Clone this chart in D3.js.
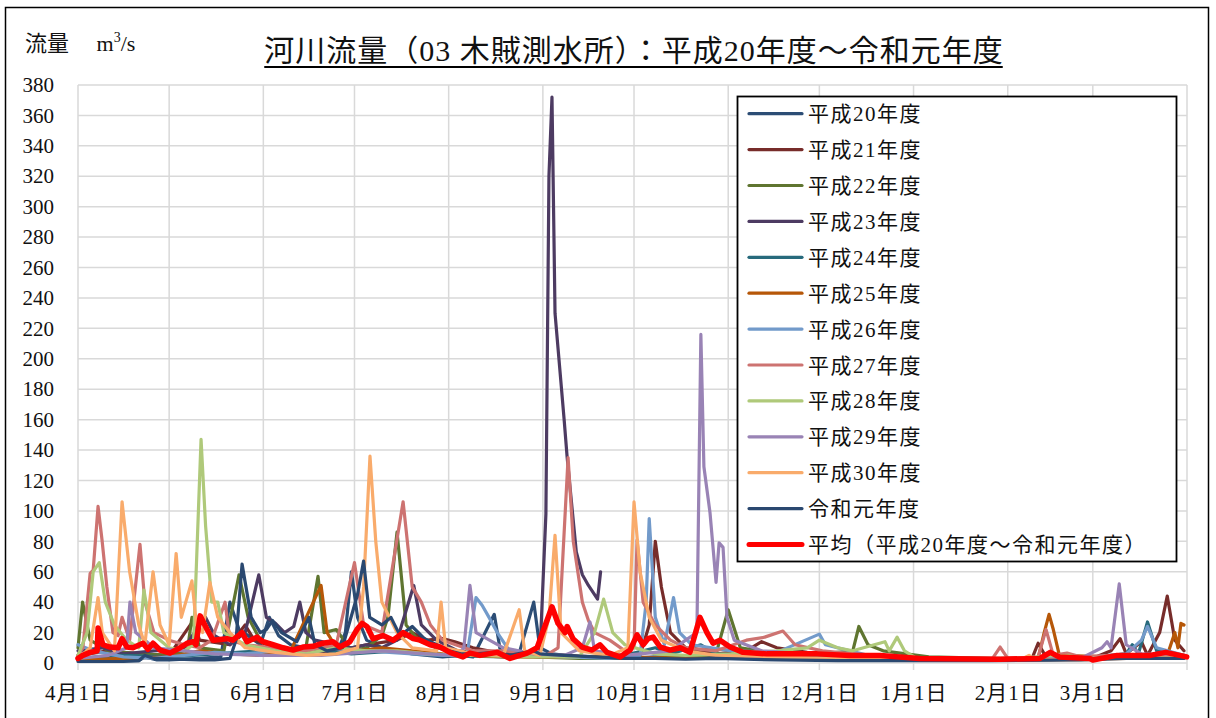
<!DOCTYPE html>
<html>
<head>
<meta charset="utf-8">
<script src="https://cdn.jsdelivr.net/npm/d3@7"></script>
<style>
  body { margin: 0; background: #fff; }
  svg text { font-family: 'Liberation Serif', 'DejaVu Serif', 'Noto Sans CJK JP', serif; fill: #111; }
</style>
</head>
<body>
<svg id="chart" width="1216" height="718"></svg>
<script>
// day index from 4月1日 (0) ... 3月31日 (364), value in m3/s
const monthDays = [0, 30, 61, 91, 122, 153, 183, 214, 244, 275, 306, 334];
const monthLabels = ["4月1日","5月1日","6月1日","7月1日","8月1日","9月1日","10月1日","11月1日","12月1日","1月1日","2月1日","3月1日"];
const yTicks = d3.range(0, 381, 20);

const seriesNames = ["平成20年度","平成21年度","平成22年度","平成23年度","平成24年度","平成25年度",
  "平成26年度","平成27年度","平成28年度","平成29年度","平成30年度","令和元年度"];
const seriesColors = ["#2C4D75","#772C2A","#5F7530","#4D3B62","#276A7C","#B65708",
  "#729ACA","#CD7371","#AFC97A","#9983B5","#F9AB6B","#2A4870"];

const h20 = [[0,2],[10,1.5],[20,1.5],[22,4],[26,2],[30,2],[40,3],[47,4],[50,40],[53,22],[56,18],[60,12],[63,30],[66,18],[70,12],[75,10],[80,8],[85,6],[88,20],[90,60],[92,30],[95,15],[100,10],[105,8],[110,6],[115,5],[120,4],[126,5],[130,4],[137,32],[139,8],[145,5],[150,40],[152,10],[156,6],[165,4],[175,3],[183,3],[190,4],[200,3],[210,5],[220,3],[240,3],[260,2.5],[280,2],[300,2],[320,2],[335,3],[345,5],[355,4],[364,4]];
const h21 = [[0,5],[10,8],[20,6],[30,5],[38,28],[40,15],[50,12],[55,25],[58,15],[65,10],[75,8],[85,8],[95,12],[105,15],[110,20],[115,15],[120,16],[124,14],[130,10],[140,6],[150,5],[160,5],[170,4],[185,5],[188,25],[190,80],[192,50],[195,20],[200,10],[210,6],[220,8],[225,14],[230,10],[240,7],[255,5],[270,3],[300,2],[314,3],[316,13],[318,6],[330,3],[335,4],[340,8],[343,16],[345,6],[350,14],[352,5],[356,20],[358.5,44],[361,15],[364,8]];
const h22 = [[0,10],[1.5,40],[4,15],[10,8],[20,6],[30,5],[36,8],[37.5,30],[40,10],[48,8],[53,58],[56,30],[60,15],[65,10],[70,8],[75,10],[79,57],[81,20],[85,22],[90,8],[95,10],[100,18],[102,30],[105,86],[108,25],[112,15],[118,10],[125,7],[135,5],[150,4],[165,3],[180,3],[200,4],[210,6],[214,35],[218,10],[230,6],[245,6],[255,8],[257,24],[260,12],[265,8],[280,4],[300,3],[330,3],[350,4],[364,3]];
const h23 = [[0,8],[8,10],[15,6],[25,8],[35,10],[40,25],[42,30],[45,18],[50,12],[55,20],[59.5,58],[62,30],[65,26],[68,20],[71,24],[73,40],[75,20],[78,15],[85,12],[90,10],[95,12],[100,10],[105,15],[110.5,51],[113,25],[118,15],[125,8],[135,6],[145,5],[152,4],[154,98],[155,320],[156,372],[157,230],[160,160],[161,135],[164,73],[166,58],[168,51],[171,42],[172,60]];
const h24 = [[0,3],[15,5],[30,4],[45,6],[60,8],[75,10],[90,6],[105,8],[120,5],[140,4],[155,5],[165,4],[180,5],[190,10],[195,6],[205,12],[210,6],[230,4],[260,3],[300,2],[330,3],[345,6],[347,12],[349,6],[352,27],[355,8],[364,5]];
const h25 = [[0,2],[15,3],[30,4],[40,8],[50,6],[60,5],[70,8],[80,51],[82,20],[85,10],[92,8],[100,10],[110,8],[120,6],[140,4],[160,4],[180,4],[200,3],[230,3],[260,2],[300,2],[316,3],[318,20],[319.6,32],[321,22],[323,5],[340,4],[355,5],[359,8],[361,20],[362,10],[363,26],[364,25]];
const h26 = [[0,12],[5,8],[15,4],[25,3],[35,5],[45,7],[55,6],[65,8],[80,10],[95,8],[110,6],[120,5],[128,5],[131,43],[133,38],[135,31],[138,20],[142,8],[150,5],[160,4],[175,3],[185,5],[187,40],[188,95],[190,30],[193,12],[196,43],[198,20],[202,12],[215,8],[230,7],[244,19],[246,12],[260,5],[280,3],[300,2],[330,3],[345,6],[350,15],[352,24],[355,10],[364,5]];
const h27 = [[0,5],[1.6,10],[4,59],[5,61],[6.6,103],[7.9,81],[9.5,50],[11.5,20],[13.2,18],[14.5,30],[17,15],[20.4,78],[22,40],[25,20],[30,15],[35,12],[40,10],[44,15],[48.4,40],[50,15],[55,12],[65,10],[75,8],[85,12],[91,66],[94,25],[100,20],[107,106],[110,50],[113,40],[116,25],[120,15],[130,8],[140,8],[150,6],[154,5],[158,10],[161.3,135],[163,80],[166,40],[168,28],[170,20],[175,15],[180,8],[183,10],[184,81],[186,40],[190,25],[195,15],[200,10],[210,8],[220,15],[226,17],[232,21],[236,12],[245,8],[260,5],[280,3],[301,3],[303.5,10.5],[306,3],[316,4],[318.6,22],[321,5],[325.5,6.5],[330,4],[340,5],[364,5]];
const h28 = [[0,5],[3,20],[5,60],[7,66],[9,40],[12,25],[16,15],[20,10],[21.7,48],[24,20],[30,10],[35,8],[38,12],[40.5,147],[42,90],[44,40],[46,40],[48,20],[55,12],[65,8],[75,6],[85,10],[95,8],[105,8],[115,6],[130,5],[150,4],[165,4],[170,20],[173,42],[176,20],[180,12],[190,6],[200,5],[215,6],[230,8],[240,10],[244,15],[250,10],[255,8],[265.6,14],[267,8],[269.6,17],[272,8],[276,3],[300,2],[326,5],[330,3],[340,3],[364,3]];
const h29 = [[0,3],[10,5],[16,10],[17.1,40],[19,20],[25,10],[35,8],[45,6],[60,5],[80,5],[100,8],[115,6],[125,5],[127,10],[129,51],[131,20],[140,10],[150,6],[160,5],[166,10],[168.5,27],[170,8],[180,5],[195,8],[200,15],[203.7,20],[205,216],[206,129],[208,99],[210,53],[211,79],[212.3,76],[213.6,30],[216,15],[225,8],[240,6],[260,4],[280,3],[300,2],[330,3],[337,10],[338.7,14],[340,10],[342.7,52],[345,12],[350,6],[364,5]];
const h30 = [[0,3],[4,10],[6.6,43],[8,20],[12,8],[14.5,106],[17,60],[20,25],[22,12],[24.7,60],[27,25],[30,12],[32.3,72],[34,30],[37.5,54],[39,25],[41,20],[43.4,53],[46,30],[50,20],[55,10],[65,7],[75,5],[85,6],[92,10],[94,50],[96.1,136],[98,80],[100,40],[105,20],[110,10],[118,8],[119.5,40],[121,10],[130,6],[140,5],[145.2,35],[147,8],[152,5],[155,30],[157,84],[159,20],[165,8],[175,5],[181,10],[183,106],[185,60],[188,30],[192,15],[200,8],[210,5],[225,4],[250,3],[280,2],[310,2],[313,5],[315,2],[330,2],[345,3],[364,4]];
const r1 = [[0,1],[15,1],[20,1.5],[22,5],[25,3],[40,2],[45,2],[50,3],[52,15],[54,65],[57,30],[60,20],[62,22],[64,28],[67,20],[72,14],[76,30],[78,12],[82,8],[87,10],[92,45],[94,67],[96,30],[100,25],[103,30],[106,18],[110,24],[114,16],[118,12],[122,8],[126,6],[131,6],[137,7],[142,5],[150,8],[152,6],[160,5],[170,4],[180,3],[190,3],[200,2.5],[210,3],[230,2],[250,1.5],[280,1.5],[300,1.5],[330,2],[345,3],[364,3]];
const avg = [[0,3],[1.6,5],[4,7],[6.3,8],[6.6,23],[8.2,12],[10.5,10.5],[13.2,10],[14.5,16],[16.1,10.5],[18.1,10],[21.4,13],[23,9],[24.7,13],[27,8.5],[30.3,6.5],[33.6,10],[35.9,13],[37.9,14],[38.8,12],[40.2,31],[42.5,22],[44.4,15],[49,16],[51,15],[54,20],[55.6,14],[58.9,17],[60.9,14],[64.2,12],[67.5,10],[70.8,8.5],[74,10.5],[77.4,11],[80.6,13],[83.9,14],[86.2,10.5],[89.5,14],[91.8,22],[93.5,26],[95.1,24],[97.1,16],[100.4,18],[103.7,15],[107,20],[110.3,16],[112.6,15],[115.9,12],[119.2,10.5],[122.4,7],[126.7,4],[129,6.5],[132.3,5],[137.9,7],[142.2,3],[147.8,6.5],[151.1,10],[153.1,21],[156,37],[158,26],[160.3,20],[161,24],[162.9,16],[165.9,10.5],[169.2,8.5],[171.8,12],[174.1,7],[178.4,4],[181.7,8.5],[184,18.5],[186,12],[187.6,16],[189.3,17],[191.6,10.5],[194.9,8.5],[198.2,10],[201.4,7],[204.7,30],[207,20],[209,13],[211.3,15],[214.6,10.5],[218.9,7],[226.8,6],[232,6],[243.3,6],[254,5],[264,5],[277,3],[303.5,2.5],[316.6,3],[320,7],[323,4],[333,3],[334,2],[342,5],[352.9,5],[358,7],[364.9,4]];

const allSeries = [h20, h21, h22, h23, h24, h25, h26, h27, h28, h29, h30, r1];

const svg = d3.select("#chart");
const margin = { left: 78, top: 85 };
const innerWidth = 1109, innerHeight = 578;

svg.append("rect").attr("width", 1216).attr("height", 718).attr("fill", "#fff");
svg.append("rect")
  .attr("x", 5.5).attr("y", 7.5).attr("width", 1203).attr("height", 730)
  .attr("fill", "none").attr("stroke", "#000").attr("stroke-width", 1.5);

const xScale = d3.scaleLinear().domain([0, 365]).range([0, innerWidth]);
const yScale = d3.scaleLinear().domain([0, 380]).range([innerHeight, 0]);

const g = svg.append("g").attr("transform", `translate(${margin.left},${margin.top})`);

// gridlines
g.selectAll(".hgrid").data(yTicks).enter().append("line")
  .attr("x1", 0).attr("x2", innerWidth)
  .attr("y1", d => yScale(d)).attr("y2", d => yScale(d))
  .attr("stroke", "#d9d9d9").attr("stroke-width", 1.5);
g.selectAll(".vgrid").data(monthDays.concat([365])).enter().append("line")
  .attr("x1", d => xScale(d)).attr("x2", d => xScale(d))
  .attr("y1", 0).attr("y2", innerHeight + 7)
  .attr("stroke", "#d9d9d9").attr("stroke-width", 1.5);

// axes
const yAxis = d3.axisLeft(yScale).tickValues(yTicks).tickSize(0).tickPadding(24);
g.append("g").call(yAxis).attr("font-family", null).call(a => a.select(".domain").remove())
  .selectAll("text").style("font-size", "21px").attr("fill", "#111");

const xAxis = d3.axisBottom(xScale).tickValues(monthDays)
  .tickFormat((d, i) => monthLabels[i]).tickSize(0).tickPadding(22);
g.append("g").attr("transform", `translate(0,${innerHeight})`).call(xAxis).attr("font-family", null)
  .call(a => a.select(".domain").remove())
  .selectAll("text").style("font-size", "21px").style("letter-spacing", "1px").attr("fill", "#111");

// lines
const line = d3.line().x(d => xScale(d[0])).y(d => yScale(d[1]));
allSeries.forEach((s, i) => {
  g.append("path").datum(s).attr("d", line)
    .attr("fill", "none").attr("stroke", seriesColors[i])
    .attr("stroke-width", 3.2).attr("stroke-linejoin", "round").attr("stroke-linecap", "round");
});
g.append("path").datum(avg).attr("d", line)
  .attr("fill", "none").attr("stroke", "#FF0000")
  .attr("stroke-width", 5.5).attr("stroke-linejoin", "round").attr("stroke-linecap", "round");

// title
const title = svg.append("text").attr("x", 634).attr("y", 61)
  .attr("text-anchor", "middle").style("font-size", "30px").style("letter-spacing", "1px")
  .text("河川流量（03 木賊測水所）：平成20年度～令和元年度");
const tb = title.node().getBBox();
svg.append("line").attr("x1", tb.x).attr("x2", tb.x + tb.width - 1)
  .attr("y1", 67).attr("y2", 67).attr("stroke", "#000").attr("stroke-width", 2);

// unit label
const unit = svg.append("text").attr("x", 25).attr("y", 51).style("font-size", "22px");
unit.append("tspan").text("流量　 m");
unit.append("tspan").attr("dy", -9).style("font-size", "14px").text("3");
unit.append("tspan").attr("dy", 9).text("/s");

// legend
const legend = svg.append("g");
legend.append("rect").attr("x", 737.5).attr("y", 96.5).attr("width", 439).attr("height", 465)
  .attr("fill", "#fff").attr("stroke", "#000").attr("stroke-width", 1.8);
const legNames = seriesNames.concat(["平均（平成20年度～令和元年度）"]);
const legColors = seriesColors.concat(["#FF0000"]);
legNames.forEach((n, i) => {
  const y = 113.7 + i * 35.9;
  legend.append("line").attr("x1", 749).attr("x2", 802).attr("y1", y).attr("y2", y)
    .attr("stroke", legColors[i]).attr("stroke-width", i === 12 ? 5 : 3.2).attr("stroke-linecap", "round");
  legend.append("text").attr("x", 808).attr("y", y).attr("dy", "0.36em")
    .style("font-size", "21px").style("letter-spacing", "1.5px").text(n);
});
</script>
</body>
</html>
